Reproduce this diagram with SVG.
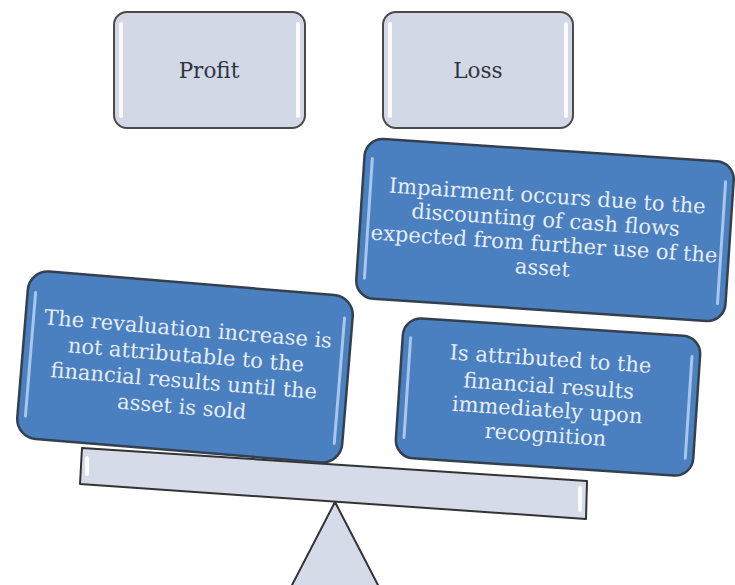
<svg xmlns="http://www.w3.org/2000/svg" width="735" height="585" viewBox="0 0 735 585">
<defs>
<style>
.gbox{fill:#d3d8e7;stroke:#4a4a4a;stroke-width:2}
.ghl{stroke:#ffffff;stroke-width:4;stroke-linecap:round;fill:none;opacity:0.9}
.bbox{fill:#4a7fc0;stroke:#34404e;stroke-width:2.5}
.bhl{stroke:#b3cdee;stroke-width:3;stroke-linecap:round;fill:none;opacity:0.9}
.gt{font-family:"DejaVu Serif","Liberation Serif",serif;font-size:21.5px;fill:#2e3440;text-anchor:middle}
.bt{font-family:"DejaVu Serif","Liberation Serif",serif;font-size:21px;fill:#e6edf7;text-anchor:middle}
.part{fill:#d6dbe9;stroke:#333;stroke-width:2;stroke-linejoin:round}
</style>
</defs>
<rect width="735" height="585" fill="#ffffff"/>
<g id="connectors"></g>
<g id="scale">
<polygon class="part" points="335,502 291,587 379,587"/>
<polygon class="part" points="82,448 587,481 586,519 80,484"/>
<line x1="87" y1="458" x2="87" y2="474" class="ghl" stroke-width="3"/>
<line x1="580" y1="488" x2="580" y2="510" class="ghl" stroke-width="3"/>
</g>
<g id="profit">
<rect class="gbox" x="114" y="12" width="191" height="116" rx="13"/>
<line class="ghl" x1="121" y1="24" x2="121" y2="116"/>
<line class="ghl" x1="298" y1="24" x2="298" y2="116"/>
<text class="gt" x="209" y="78">Profit</text>
</g>
<g id="loss">
<rect class="gbox" x="383" y="12" width="190" height="116" rx="13"/>
<line class="ghl" x1="390" y1="24" x2="390" y2="116"/>
<line class="ghl" x1="566" y1="24" x2="566" y2="116"/>
<text class="gt" x="478" y="78">Loss</text>
</g>
<g id="impairment" transform="translate(545,230) rotate(3.8)">
<rect class="bbox" x="-185" y="-80" width="370" height="160" rx="18"/>
<line class="bhl" x1="-177" y1="-60" x2="-177" y2="60"/>
<line class="bhl" x1="177" y1="-60" x2="177" y2="62"/>
<text class="bt" y="-27">Impairment occurs due to the</text>
<text class="bt" y="-3">discounting of cash flows</text>
<text class="bt" y="21">expected from further use of the</text>
<text class="bt" y="45">asset</text>
</g>
<g id="revaluation" transform="translate(185,367) rotate(4.7)">
<rect class="bbox" x="-163" y="-84" width="326" height="168" rx="20"/>
<line class="bhl" x1="-155" y1="-62" x2="-155" y2="62"/>
<line class="bhl" x1="155" y1="-62" x2="155" y2="64"/>
<text class="bt" y="-31">The revaluation increase is</text>
<text class="bt" y="-5">not attributable to the</text>
<text class="bt" y="21">financial results until the</text>
<text class="bt" y="47">asset is sold</text>
</g>
<g id="attributed" transform="translate(548,397) rotate(3.8)">
<rect class="bbox" x="-149" y="-70" width="298" height="140" rx="18"/>
<line class="bhl" x1="-141" y1="-50" x2="-141" y2="50"/>
<line class="bhl" x1="141" y1="-50" x2="141" y2="52"/>
<text class="bt" y="-31">Is attributed to the</text>
<text class="bt" y="-4">financial results</text>
<text class="bt" y="20">immediately upon</text>
<text class="bt" y="45">recognition</text>
</g>
</svg>
